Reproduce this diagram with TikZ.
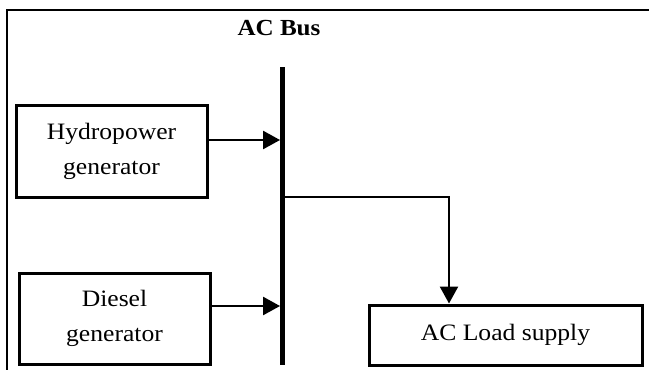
\documentclass[tikz,border=0pt]{standalone}
\usepackage{fontspec}
\setmainfont{Liberation Serif}[FakeStretch=1.09]
\usetikzlibrary{arrows.meta}
\begin{document}
\begin{tikzpicture}[x=1pt,y=-1pt,
  blockbox/.style={draw,line width=3pt,inner sep=0pt,align=center,
    font=\fontsize{23.5}{35}\selectfont},
  arr/.style={line width=2.5pt,-{Triangle[length=17pt,width=18pt]}},
  frameline/.style={line width=1.5pt}]
\useasboundingbox (0,0) rectangle (649,370);
\draw[frameline] (7,370) -- (7,10) -- (649,10);
\node[font=\bfseries\fontsize{23}{28}\selectfont] (title) at (279,28) {AC Bus};
\node[fill,inner sep=0pt,minimum width=4.5pt,minimum height=298pt] (bus) at (282.5,216) {};
\node[blockbox,minimum width=191pt,minimum height=92pt] (hydro) at (111.5,151) {Hydropower\\generator};
\node[blockbox,minimum width=191pt,minimum height=91pt] (diesel) at (114.5,318.5) {Diesel\\generator};
\node[blockbox,minimum width=273pt,minimum height=60pt] (load) at (505.5,335) {AC Load supply};
\draw[arr] (hydro.east |- 0,140) -- (bus.west |- 0,140);
\draw[arr] (diesel.east |- 0,306) -- (bus.west |- 0,306);
\draw[arr] (bus.east |- 0,197) -| (load.north -| 449,0);
\end{tikzpicture}
\end{document}
